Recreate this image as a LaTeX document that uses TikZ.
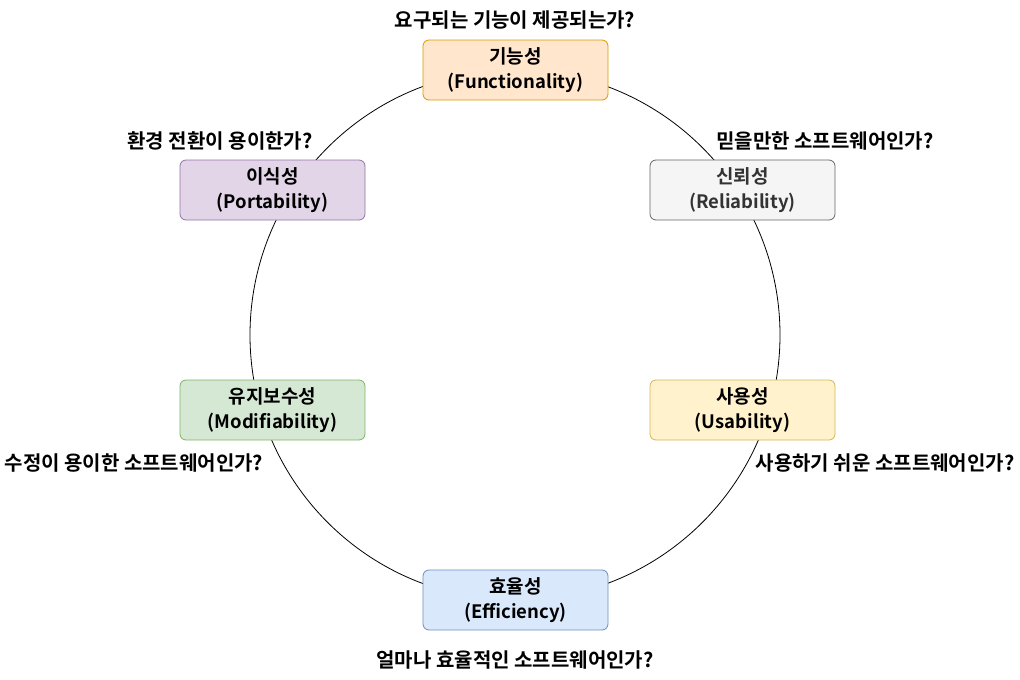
\documentclass[tikz,border=0pt]{standalone}
\usepackage{fontspec}
\setmainfont{Noto Sans CJK KR}[BoldFont={* Bold}]
\newfontfamily\krb{Noto Sans CJK KR Bold}
\definecolor{orfill}{HTML}{FFE6CC}\definecolor{ordraw}{HTML}{D79B00}
\definecolor{grfill}{HTML}{F5F5F5}\definecolor{grdraw}{HTML}{666666}\definecolor{grtext}{HTML}{333333}
\definecolor{pufill}{HTML}{E1D5E7}\definecolor{pudraw}{HTML}{9673A6}
\definecolor{gnfill}{HTML}{D5E8D4}\definecolor{gndraw}{HTML}{82B366}
\definecolor{yefill}{HTML}{FFF2CC}\definecolor{yedraw}{HTML}{D6B656}
\definecolor{blfill}{HTML}{DAE8FC}\definecolor{bldraw}{HTML}{6C8EBF}
\newcommand\lat[1]{{\fontsize{18.5}{25}\selectfont #1}}
\tikzset{
  qbox/.style={draw, rounded corners=6pt, minimum width=185pt, minimum height=60pt,
    align=center, font=\krb\fontsize{19}{25}\selectfont, inner sep=0pt, line width=0.8pt},
  qlabel/.style={font=\krb\fontsize{20}{24}\selectfont, inner sep=0pt, text=black}
}
\begin{document}
\begin{tikzpicture}[x=1pt,y=-1pt]
\useasboundingbox (0,0) rectangle (1020,680);
\coordinate (c) at (515,335);
\draw[line width=0.8pt] (c) circle[radius=265pt];
\node[qbox, fill=orfill, draw=ordraw] (func) at (515.5,70) {기능성\\\lat{(Functionality)}};
\node[qbox, fill=grfill, draw=grdraw, text=grtext] (reli) at (742.5,190) {신뢰성\\\lat{(Reliability)}};
\node[qbox, fill=yefill, draw=yedraw] (usab) at (742.5,410) {사용성\\\lat{(Usability)}};
\node[qbox, fill=blfill, draw=bldraw] (effi) at (515.5,600) {효율성\\\lat{(Efficiency)}};
\node[qbox, fill=gnfill, draw=gndraw] (modi) at (272.5,410) {유지보수성\\\lat{(Modifiability)}};
\node[qbox, fill=pufill, draw=pudraw] (port) at (272.5,190) {이식성\\\lat{(Portability)}};
\node[qlabel] (lfunc) at (515,20) {요구되는 기능이 제공되는가?};
\node[qlabel] (lreli) at (825,141) {믿을만한 소프트웨어인가?};
\node[qlabel] (lport) at (220,141) {환경 전환이 용이한가?};
\node[qlabel] (lmodi) at (134,463) {수정이 용이한 소프트웨어인가?};
\node[qlabel] (lusab) at (885,463) {사용하기 쉬운 소프트웨어인가?};
\node[qlabel] (leffi) at (515,660) {얼마나 효율적인 소프트웨어인가?};
\end{tikzpicture}
\end{document}
